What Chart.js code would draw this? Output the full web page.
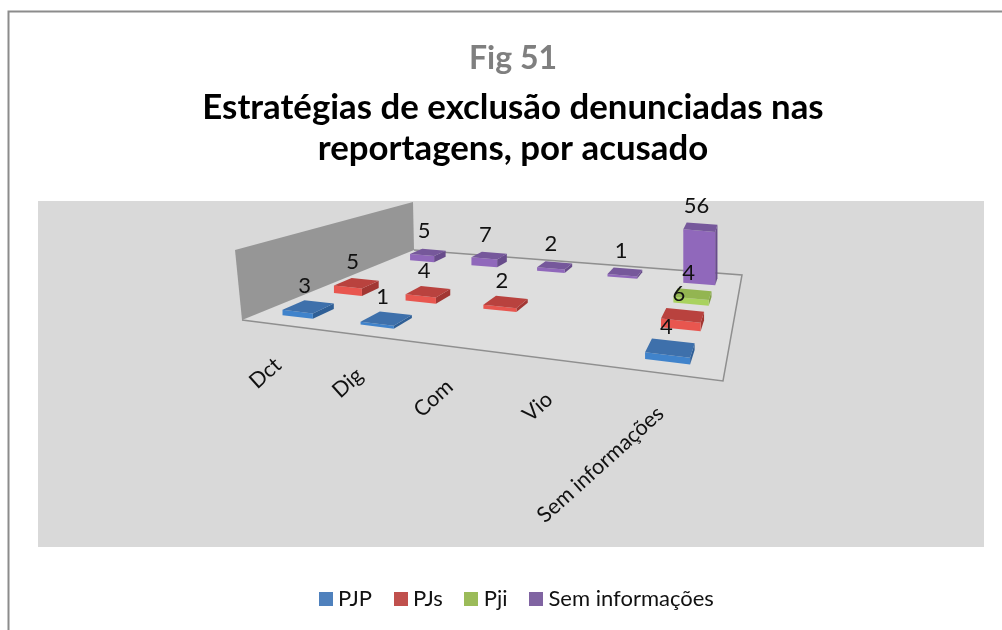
<!DOCTYPE html>
<html>
<head>
<meta charset="utf-8">
<title>Fig 51</title>
<script src="https://cdn.jsdelivr.net/npm/chart.js@4"></script>
<style>
  html, body { margin: 0; padding: 0; background: #fff; overflow: hidden; }
  #wrap { width: 1002px; height: 630px; position: relative; }
</style>
</head>
<body>
<div id="wrap"><canvas id="chart"></canvas></div>
<script>
const categories = ["Dct", "Dig", "Com", "Vio", "Sem informações"];
const seriesNames = ["PJP", "PJs", "Pji", "Sem informações"];
const pjp = [3, 1, null, null, 4];
const pjs = [5, 4, 2, null, 6];
const pji = [null, null, null, null, 4];
const semInfo = [5, 7, 2, 1, 56];

const legendColors = ["#4f81bd", "#c0504d", "#9bbb59", "#8064a2"];
// top, front and side face of each series
const faces = [
  ["#3e70ab", "#4083cb", "#2f5f96"],
  ["#b9423e", "#e8564f", "#a23733"],
  ["#93b551", "#a9d25f", "#82a046"],
  ["#76589b", "#9068bb", "#684c8b"]
];

const panel = { left: 38, top: 201, right: 984, bottom: 547 };
// camera: where the floor and back wall of the 3D box land on the page
const floor = { fl: [242, 320], fr: [723, 381], br: [742, 275], bl: [414, 250] };
const wallTop = { front: [235, 250], back: [413, 202] };
// the y scale spans the panel, the 3D box is much flatter than that
const heightRatio = 0.143;

function makeProjection(q) {
  const [x0, y0] = q.fl, [x1, y1] = q.fr, [x2, y2] = q.br, [x3, y3] = q.bl;
  const dx1 = x1 - x2, dx2 = x3 - x2, dx3 = x0 - x1 + x2 - x3;
  const dy1 = y1 - y2, dy2 = y3 - y2, dy3 = y0 - y1 + y2 - y3;
  const den = dx1 * dy2 - dx2 * dy1;
  const g = (dx3 * dy2 - dx2 * dy3) / den;
  const h = (dx1 * dy3 - dx3 * dy1) / den;
  const a = x1 - x0 + g * x1, b = x3 - x0 + h * x3;
  const d = y1 - y0 + g * y1, e = y3 - y0 + h * y3;
  return (u, v) => {
    const w = g * u + h * v + 1;
    return [(a * u + b * v + x0) / w, (d * u + e * v + y0) / w];
  };
}
const project = makeProjection(floor);

function poly(ctx, pts, fill) {
  ctx.beginPath();
  pts.forEach((p, i) => i ? ctx.lineTo(p[0], p[1]) : ctx.moveTo(p[0], p[1]));
  ctx.closePath();
  ctx.fillStyle = fill;
  ctx.fill();
}

// legend squares as images, so the text can sit closer than chart.js normally puts it
function swatch(color) {
  const c = document.createElement("canvas");
  c.width = 14;
  c.height = 14;
  const g = c.getContext("2d");
  g.fillStyle = color;
  g.fillRect(0, 0, 14, 14);
  return c;
}
const swatches = legendColors.map(swatch);

const scene = {
  id: "scene",
  // legend is not quite centred under the title in the original
  afterLayout(chart) {
    chart.legend.left += 6;
    chart.legend.right += 6;
  },
  beforeDraw(chart) {
    const ctx = chart.ctx;
    ctx.save();
    // outer frame, cropped at the right and bottom
    ctx.strokeStyle = "#8c8c8c";
    ctx.lineWidth = 2;
    ctx.beginPath();
    ctx.moveTo(8.5, 630);
    ctx.lineTo(8.5, 11.5);
    ctx.lineTo(1002, 11.5);
    ctx.stroke();

    ctx.fillStyle = "#d9d9d9";
    ctx.fillRect(panel.left, panel.top, panel.right - panel.left, panel.bottom - panel.top);

    poly(ctx, [floor.fl, floor.fr, floor.br, floor.bl], "#dedede");
    poly(ctx, [wallTop.front, wallTop.back, floor.bl, floor.fl], "#969696");

    ctx.strokeStyle = "#8f8f8f";
    ctx.lineWidth = 1.5;
    ctx.beginPath();
    ctx.moveTo(floor.fl[0], floor.fl[1]);
    ctx.lineTo(floor.fr[0], floor.fr[1]);
    ctx.lineTo(floor.br[0], floor.br[1]);
    ctx.lineTo(floor.bl[0], floor.bl[1]);
    ctx.stroke();
    ctx.restore();
  },
  // the flat bars stay in the chart for scales and legend, the boxes replace them
  beforeDatasetDraw() {
    return false;
  },
  afterDatasetsDraw(chart) {
    const ctx = chart.ctx, xs = chart.scales.x, ys = chart.scales.y;
    const rows = chart.data.datasets.length;
    const halfU = 0.04, halfV = 0.2 / rows;
    const labels = [];
    ctx.save();
    ctx.filter = "blur(0.5px)";
    for (let s = rows - 1; s >= 0; s--) {
      const values = chart.data.datasets[s].data;
      const v = (s + 0.5) / rows;
      values.forEach((val, i) => {
        if (val === null) return;
        const u = (xs.getPixelForValue(i) - xs.left) / xs.width;
        const zoom = 1 + (1 - v) * 0.6;
        const h = (ys.getPixelForValue(0) - ys.getPixelForValue(val)) * heightRatio * zoom + 1.5;
        const up = (p) => [p[0], p[1] - h];
        const a = project(u - halfU, v - halfV), b = project(u + halfU, v - halfV);
        const c = project(u + halfU, v + halfV), d = project(u - halfU, v + halfV);
        const [top, front, side] = faces[s];
        poly(ctx, [b, c, up(c), up(b)], side);
        poly(ctx, [a, b, up(b), up(a)], front);
        poly(ctx, [up(a), up(b), up(c), up(d)], top);
        const mid = project(u, v);
        labels.push([String(val), mid[0] - 4, mid[1] - h - 21]);
      });
    }
    ctx.filter = "none";
    ctx.fillStyle = "#111";
    ctx.font = "22px Lato";
    ctx.textAlign = "center";
    ctx.textBaseline = "middle";
    labels.forEach(([t, x, y]) => ctx.fillText(t, x, y));

    // category labels run along the front edge of the floor
    ctx.font = "21.5px Lato";
    ctx.textAlign = "right";
    categories.forEach((name, i) => {
      const u = (xs.getPixelForValue(i) - xs.left) / xs.width;
      const p = project(u, 0);
      ctx.save();
      ctx.translate(p[0] - 2, p[1] + 37);
      ctx.rotate(-42 * Math.PI / 180);
      ctx.fillText(name, 0, 0);
      ctx.restore();
    });
    ctx.restore();
  }
};

const seriesValues = [pjp, pjs, pji, semInfo];

new Chart(document.getElementById("chart"), {
  type: "bar",
  data: {
    labels: categories,
    datasets: seriesNames.map((name, i) => ({
      label: name,
      data: seriesValues[i],
      backgroundColor: legendColors[i]
    }))
  },
  plugins: [scene],
  options: {
    responsive: true,
    maintainAspectRatio: false,
    animation: false,
    layout: { padding: { left: 24, right: 0, top: 39, bottom: 10 } },
    scales: {
      x: { display: false },
      y: { display: false, min: 0, max: 60 }
    },
    plugins: {
      tooltip: { enabled: false },
      title: {
        display: true,
        text: "Fig 51",
        color: "#7f7f7f",
        font: { family: "Lato", size: 32, weight: "bold", lineHeight: 1.2 },
        padding: { top: 0, bottom: 10 }
      },
      subtitle: {
        display: true,
        text: ["Estratégias de exclusão denunciadas nas", "reportagens, por acusado"],
        color: "#000",
        font: { family: "Lato", size: 34.8, weight: "bold", lineHeight: 1.18 },
        padding: { top: 0, bottom: 30 }
      },
      legend: {
        position: "bottom",
        labels: {
          usePointStyle: true,
          pointStyleWidth: 3,
          boxHeight: 14,
          padding: 27,
          color: "#111",
          font: { family: "Lato", size: 22 },
          generateLabels(chart) {
            const base = Chart.defaults.plugins.legend.labels.generateLabels(chart);
            return base.map((item, i) => ({ ...item, pointStyle: swatches[i] }));
          }
        }
      }
    }
  }
});
</script>
</body>
</html>
